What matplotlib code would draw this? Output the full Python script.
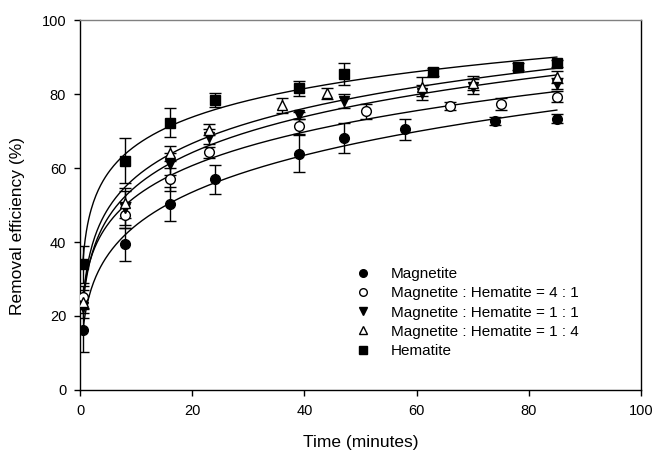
import numpy as np
import matplotlib
matplotlib.use("Agg")
import matplotlib.pyplot as plt
from matplotlib.lines import Line2D

plt.rcParams['font.family'] = ['Liberation Sans', 'DejaVu Sans']

# data (time in minutes, removal efficiency in %)
mag_t = [0.5, 8, 16, 24, 39, 47, 58, 74, 85]
mag_y = [16.2, 39.4, 50.3, 56.9, 63.9, 68.1, 70.5, 72.7, 73.3]
mag_e = [6.0, 4.5, 4.7, 4.0, 5.0, 4.0, 2.8, 1.0, 1.2]

m41_t = [0.5, 8, 16, 23, 39, 51, 66, 75, 85]
m41_y = [25.0, 47.4, 56.9, 64.3, 71.3, 75.3, 76.8, 77.3, 79.3]
m41_e = [3.0, 3.5, 3.0, 1.5, 2.0, 2.0, 1.0, 1.5, 1.5]

m11_t = [0.5, 8, 16, 23, 39, 47, 61, 70, 85]
m11_y = [22.4, 49.2, 61.0, 68.5, 74.2, 78.1, 80.4, 82.0, 82.8]
m11_e = [3.0, 4.5, 3.0, 2.0, 1.0, 2.0, 2.0, 2.0, 1.5]

m14_t = [0.5, 8, 16, 23, 36, 44, 61, 70, 85]
m14_y = [23.9, 50.6, 64.0, 70.3, 77.0, 80.2, 82.0, 83.0, 84.6]
m14_e = [3.0, 4.0, 2.0, 1.5, 2.0, 1.5, 2.5, 2.0, 1.5]

hem_t = [0.5, 8, 16, 24, 39, 47, 63, 78, 85]
hem_y = [34.0, 62.0, 72.3, 78.4, 81.5, 85.4, 86.0, 87.4, 88.3]
hem_e = [5.0, 6.0, 4.0, 2.0, 2.0, 3.0, 1.0, 1.0, 1.0]

labels = ['Magnetite',
          'Magnetite : Hematite = 4 : 1',
          'Magnetite : Hematite = 1 : 1',
          'Magnetite : Hematite = 1 : 4',
          'Hematite']

series = [(mag_t, mag_y, mag_e, 'o', 'black'),
          (m41_t, m41_y, m41_e, 'o', 'white'),
          (m11_t, m11_y, m11_e, 'v', 'black'),
          (m14_t, m14_y, m14_e, '^', 'white'),
          (hem_t, hem_y, hem_e, 's', 'black')]


def fit_curve(t, y):
    # y = c + a * t**b, grid over b, least squares for c and a
    t = np.asarray(t, float)
    y = np.asarray(y, float)
    best = None
    for b in np.linspace(0.02, 1.0, 500):
        X = np.column_stack([np.ones_like(t), t ** b])
        coef, res, _, _ = np.linalg.lstsq(X, y, rcond=None)
        r = np.sum((X @ coef - y) ** 2)
        if best is None or r < best[0]:
            best = (r, coef[0], coef[1], b)
    return best[1:]


fig = plt.figure(figsize=(6.57, 4.53), dpi=100)
ax = fig.add_axes([0.1218, 0.1391, 0.8538, 0.8167])

for t, y, e, m, fc in series:
    c, a, b = fit_curve(t, y)
    tt = np.linspace(min(t), max(t), 400)
    ax.plot(tt, c + a * tt ** b, color='black', lw=1.0, zorder=2)
    ax.errorbar(t, y, yerr=e, fmt=m, color='black', mfc=fc, mec='black',
                ms=7 if m != 's' else 6.5, mew=1.0, elinewidth=1.0,
                capsize=4.5, capthick=1.0, zorder=3)

ax.set_xlim(0, 100)
ax.set_ylim(0, 100)
ax.set_xticks(range(0, 101, 20))
ax.set_yticks(range(0, 101, 20))
ax.tick_params(direction='out', length=4, width=1, labelsize=10.5, pad=6,
               top=False, right=False)
ax.spines['top'].set_color('#808080')
for s in ax.spines.values():
    s.set_linewidth(1.0)

ax.set_xlabel('Time (minutes)', fontsize=12.5)
ax.set_ylabel('Removal efficiency (%)', fontsize=12.5)
ax.xaxis.set_label_coords(0.5, -0.122)
ax.yaxis.set_label_coords(-0.098, 0.443)

handles = [Line2D([], [], ls='none', marker=m, mfc=fc, mec='black',
                  ms=5.5, mew=1.0) for _, _, _, m, fc in series]
ax.legend(handles, labels, loc='upper left', bbox_to_anchor=(0.491, 0.332),
          frameon=False, fontsize=11, handlelength=1.0, handletextpad=1.33,
          labelspacing=0.34, borderpad=0, borderaxespad=0)

fig.savefig('out.png', dpi=100)
